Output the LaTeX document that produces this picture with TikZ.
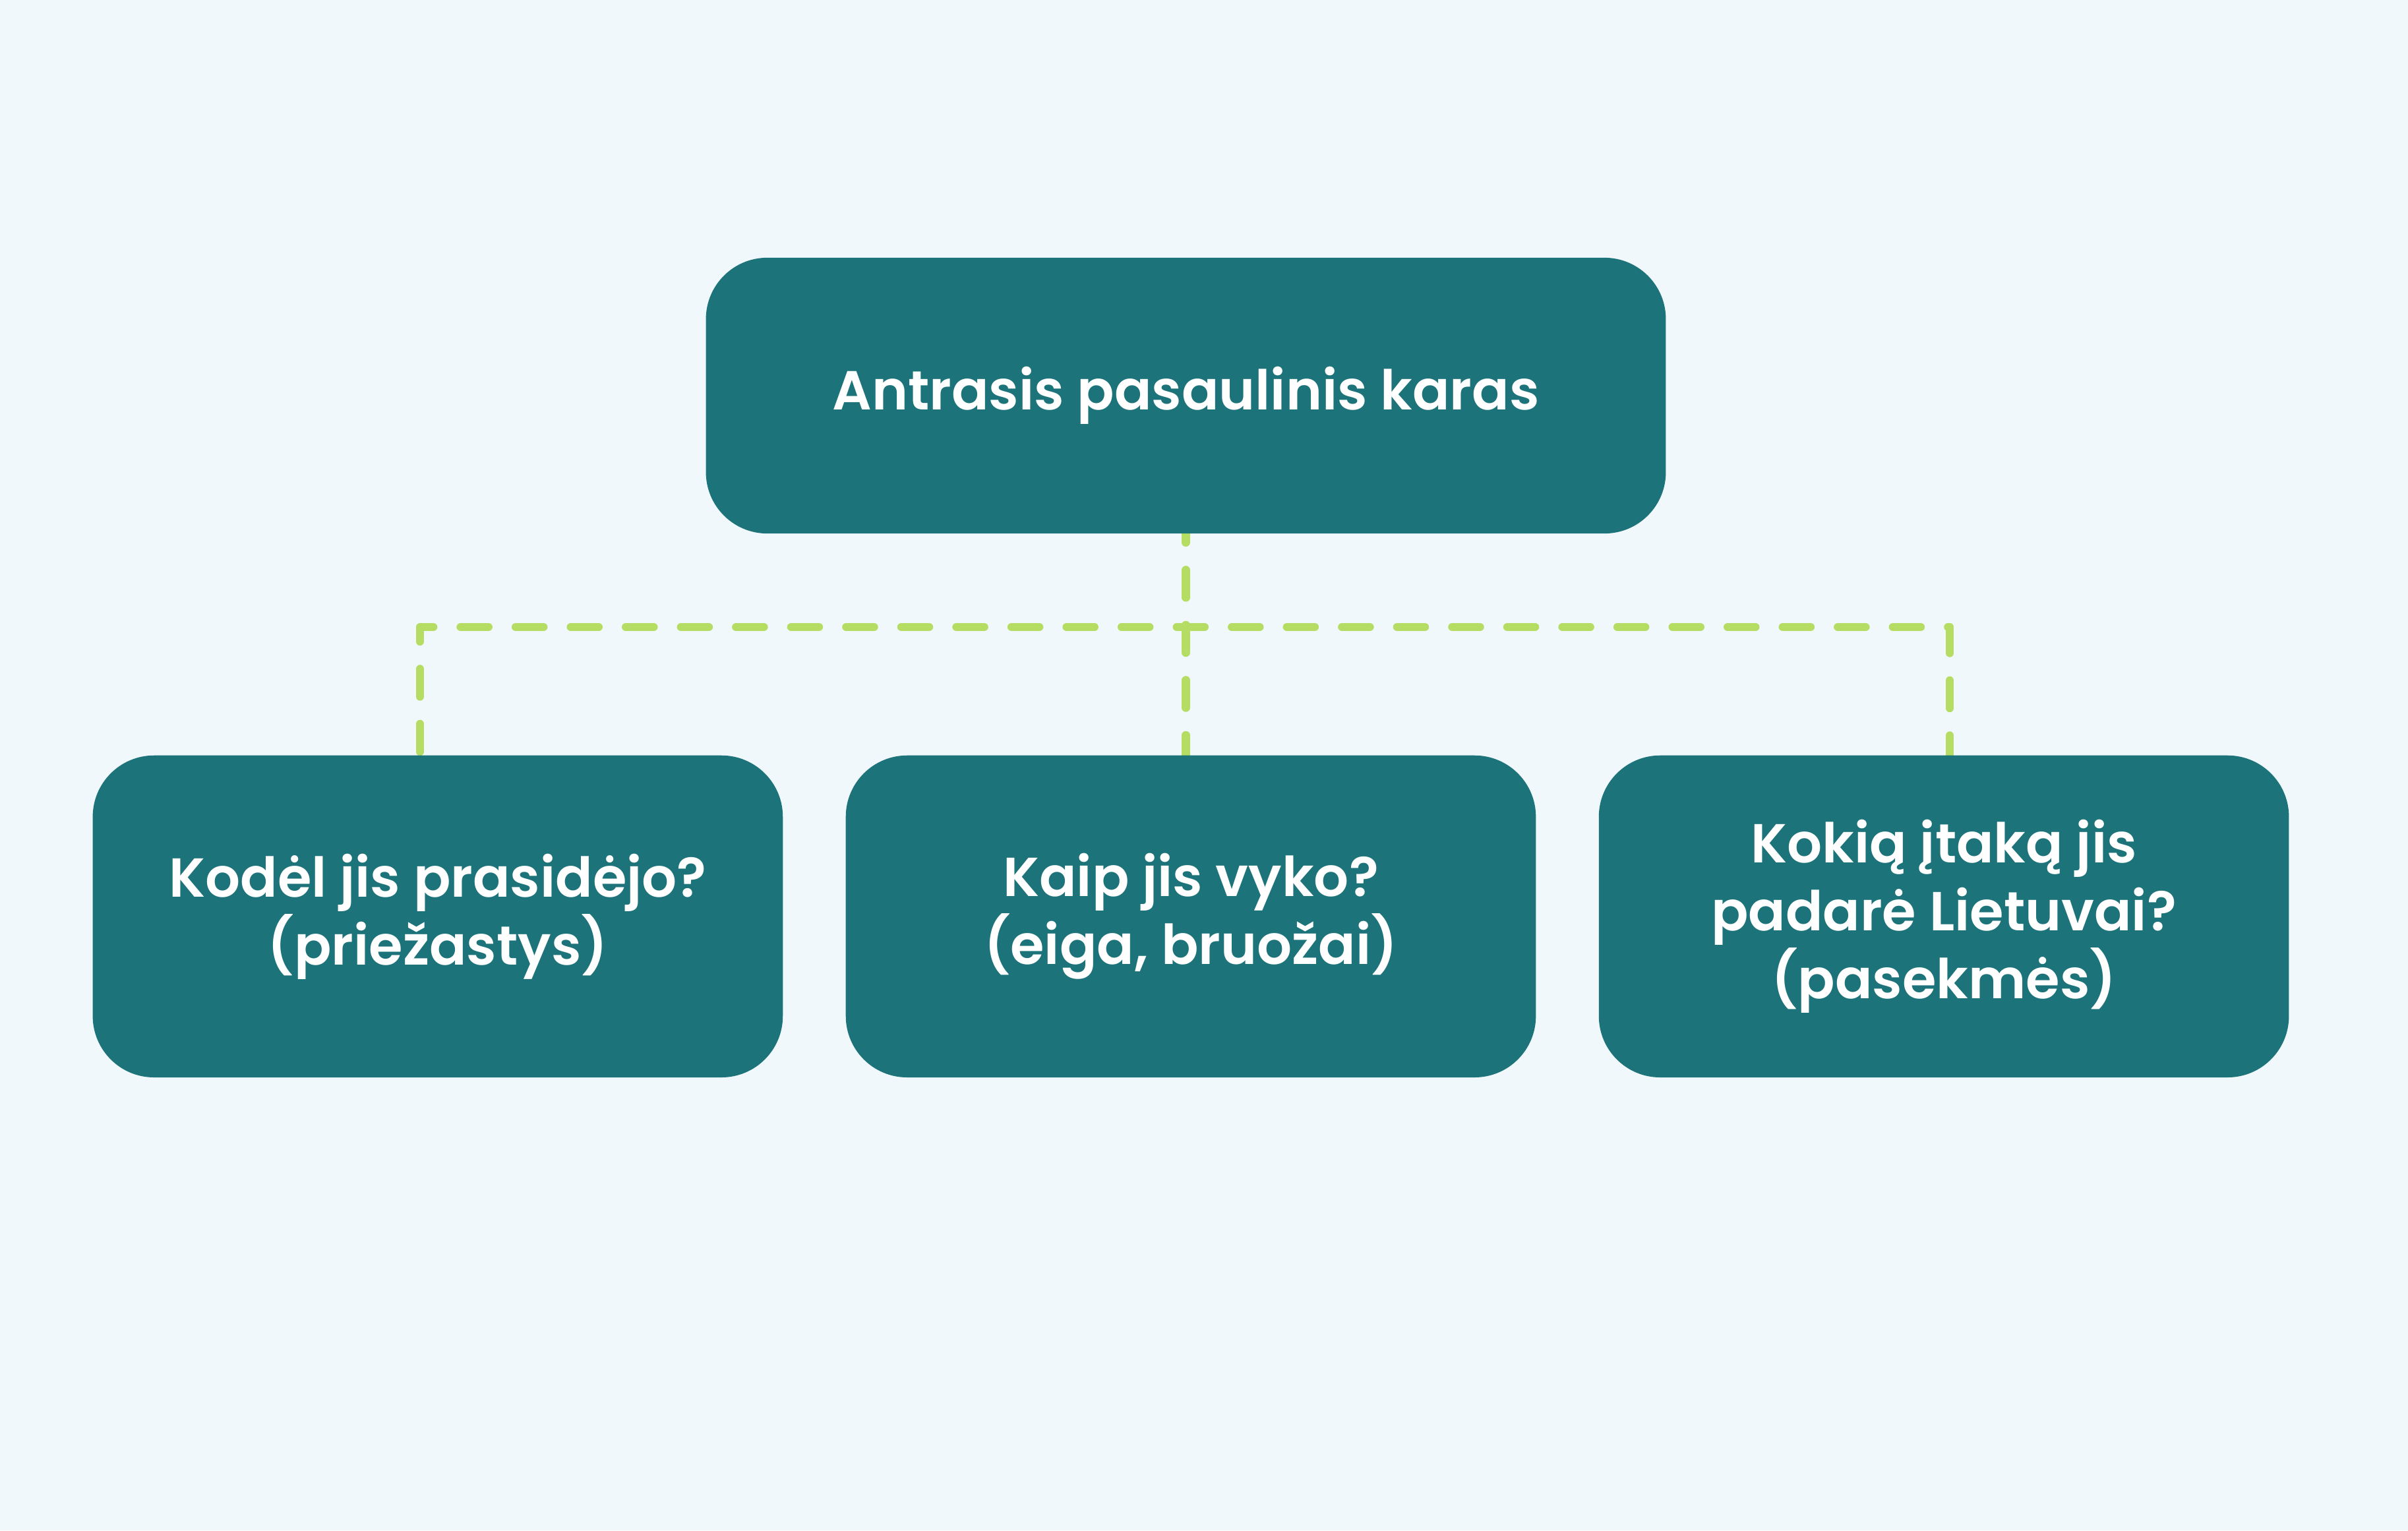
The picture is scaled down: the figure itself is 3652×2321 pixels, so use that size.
\documentclass[tikz,border=0pt]{standalone}
\usepackage{fontspec}
\setmainfont{Poppins}[BoldFont={Poppins SemiBold}]
\usetikzlibrary{positioning, backgrounds}
\definecolor{pagebg}{HTML}{F0F8FB}
\definecolor{boxteal}{HTML}{1C7379}
\definecolor{linkgreen}{HTML}{B5DD63}
\tikzset{
    box/.style = {
      fill=boxteal, rounded corners=0.93cm, inner sep=0, align=center,
      text=white, font=\fontsize{23.7}{29.3}\selectfont\bfseries,
    },
    root box/.style = {box, minimum width=14.55cm, minimum height=4.18cm},
    question/.style = {box, minimum width=10.46cm, minimum height=4.88cm},
    link/.style = {
      line width=0.125cm, draw=linkgreen, line cap=round, line join=round,
      dash pattern=on 0.42cm off 0.415cm,
    },
}

\begin{document}
\begin{tikzpicture}[x=0.01cm, y=-0.01cm]
    %% The topic and the three questions below it
    \node [root box] (root) at (1798.5, 600) {Antrasis pasaulinis karas};
    \node [question, below=3.35cm of root, xshift=0.075cm] (q_course)
          {Kaip jis vyko?\\(eiga, bruožai)};
    \node [question, left=0.94cm of q_course] (q_causes)
          {Kodėl jis prasidėjo?\\(priežastys)};
    \node [question, right=0.94cm of q_course] (q_effects)
          {Kokią įtaką jis\\padarė Lietuvai?\\(pasekmės)};

    %% Page background and dashed links, kept under the boxes
    \coordinate (bus_l) at (637, 951);
    \coordinate (bus_r) at (2957, 951);
    \begin{scope}[on background layer]
      \fill [pagebg] (0, 0) rectangle (3652, 2321);
      \draw [link, dash phase=0.785cm]
        (q_causes.north -| bus_l) -- (bus_l) -- (bus_r) -- (q_effects.north -| bus_r);
      \draw [link, dash phase=0.29cm] (root.south) -- (root.south |- q_course.north);
    \end{scope}
\end{tikzpicture}
\end{document}
